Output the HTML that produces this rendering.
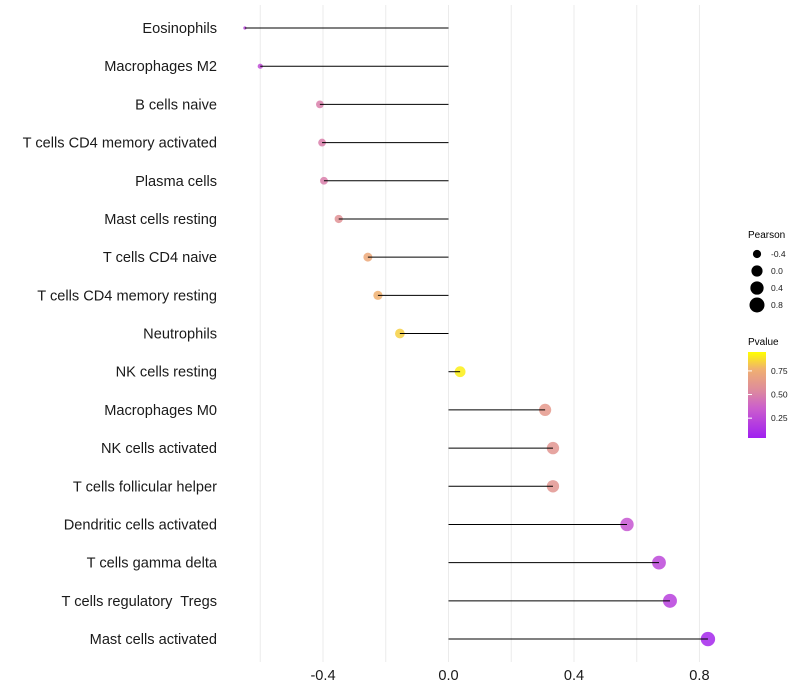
<!DOCTYPE html>
<html><head><meta charset="utf-8"><style>
body{margin:0;background:#fff;}
svg{display:block;font-family:"Liberation Sans",sans-serif;}
text{white-space:pre;}
</style></head><body>
<svg id="chart" width="800" height="700">
<defs>
<linearGradient id="pg" x1="0" y1="1" x2="0" y2="0">
<stop offset="0" stop-color="#a020f0"/><stop offset="0.35" stop-color="#cc5fcc"/>
<stop offset="0.55" stop-color="#dd8a9e"/><stop offset="0.8" stop-color="#f0b070"/>
<stop offset="1" stop-color="#ffff00"/>
</linearGradient>
</defs>
<g id="grid"></g>
<g id="marks"></g>
<g id="labels"></g>
<g id="xticks"></g>
<g>
<text x="748" y="238" font-size="10">Pearson</text>
<g id="sizeleg"></g>
</g>
<g>
<text x="748" y="345" font-size="10">Pvalue</text>
<rect x="748" y="352" width="18" height="86" fill="url(#pg)"/>
<g id="colleg"></g>
</g>
</svg>
<script>
const cells=["Eosinophils","Macrophages M2","B cells naive","T cells CD4 memory activated","Plasma cells","Mast cells resting","T cells CD4 naive","T cells CD4 memory resting","Neutrophils","NK cells resting","Macrophages M0","NK cells activated","T cells follicular helper","Dendritic cells activated","T cells gamma delta","T cells regulatory  Tregs","Mast cells activated"];
const pearson=[-0.649,-0.60,-0.41,-0.403,-0.397,-0.35,-0.257,-0.225,-0.155,0.037,0.308,0.333,0.333,0.569,0.671,0.706,0.827];
const pvalue=[0.2,0.25,0.5,0.5,0.5,0.6,0.75,0.8,0.88,0.96,0.65,0.62,0.62,0.3,0.22,0.18,0.04];
const xTicks=[-0.4,0,0.4,0.8];
const xTickLabels=["-0.4","0.0","0.4","0.8"];
const gridVals=[-0.6,-0.4,-0.2,0,0.2,0.4,0.6,0.8];
const sizeLegVals=[-0.4,0,0.4,0.8];
const colLegVals=[0.25,0.5,0.75];

const NS="http://www.w3.org/2000/svg";
const X=v=>448.5+v*313.7;
const Y=i=>28+i*38.19;
const pmin=Math.min(...pearson),pmax=Math.max(...pearson);
const R=v=>1.6+5.6*Math.sqrt(Math.max(0,(v-pmin)/(pmax-pmin)));
const stops=[[0,[160,32,240]],[0.35,[204,95,204]],[0.55,[221,138,158]],[0.8,[240,176,112]],[1,[255,255,0]]];
function col(p){p=Math.max(0,Math.min(1,p));for(let i=1;i<stops.length;i++){if(p<=stops[i][0]){const a=stops[i-1],b=stops[i],t=(p-a[0])/(b[0]-a[0]);return 'rgb('+a[1].map((c,k)=>Math.round(c+(b[1][k]-c)*t)).join(',')+')';}}return 'rgb(255,255,0)';}
function mk(tag,attrs,parent){const e=document.createElementNS(NS,tag);for(const k in attrs)e.setAttribute(k,attrs[k]);parent.appendChild(e);return e;}
const grid=document.getElementById('grid');
gridVals.forEach(v=>{const l=mk('line',{x1:X(v),x2:X(v),y1:5,y2:662,stroke:'#ebebeb','stroke-width':1},grid);

});
const marks=document.getElementById('marks'),labels=document.getElementById('labels');
cells.forEach((c,i)=>{
const y=Y(i);
const pt=mk('circle',{cx:X(pearson[i]),cy:y,r:R(pearson[i]),fill:col(pvalue[i]),'fill-opacity':0.85},marks);


const ln=mk('line',{x1:X(0),x2:X(pearson[i]),y1:y,y2:y,stroke:'#000','stroke-width':1},marks);


const t=mk('text',{x:217,y:y+5,'text-anchor':'end','font-size':14.6,fill:'#1a1a1a'},labels);
t.textContent=c;


});
const xt=document.getElementById('xticks');
xTicks.forEach((v,i)=>{const t=mk('text',{x:X(v),y:680,'text-anchor':'middle','font-size':14.6,fill:'#1a1a1a'},xt);
t.textContent=xTickLabels[i];

});
const sl=document.getElementById('sizeleg');
sizeLegVals.forEach((v,i)=>{const y=254+i*17;
const c=mk('circle',{cx:757,cy:y,r:R(v)*1.05,fill:'#000'},sl);


const t=mk('text',{x:771,y:y+3,'font-size':8.5,fill:'#1a1a1a'},sl);
t.textContent=v===0?"0.0":String(v);

});
const cl=document.getElementById('colleg');
colLegVals.forEach(v=>{const y=438-(v-0.04)/(0.95-0.04)*86;
const tk=mk('line',{x1:748,x2:752,y1:y,y2:y,stroke:'#fff'},cl);


const t=mk('text',{x:771,y:y+3,'font-size':8.5,fill:'#1a1a1a'},cl);
t.textContent=v.toFixed(2);

});
</script>
</body></html>
